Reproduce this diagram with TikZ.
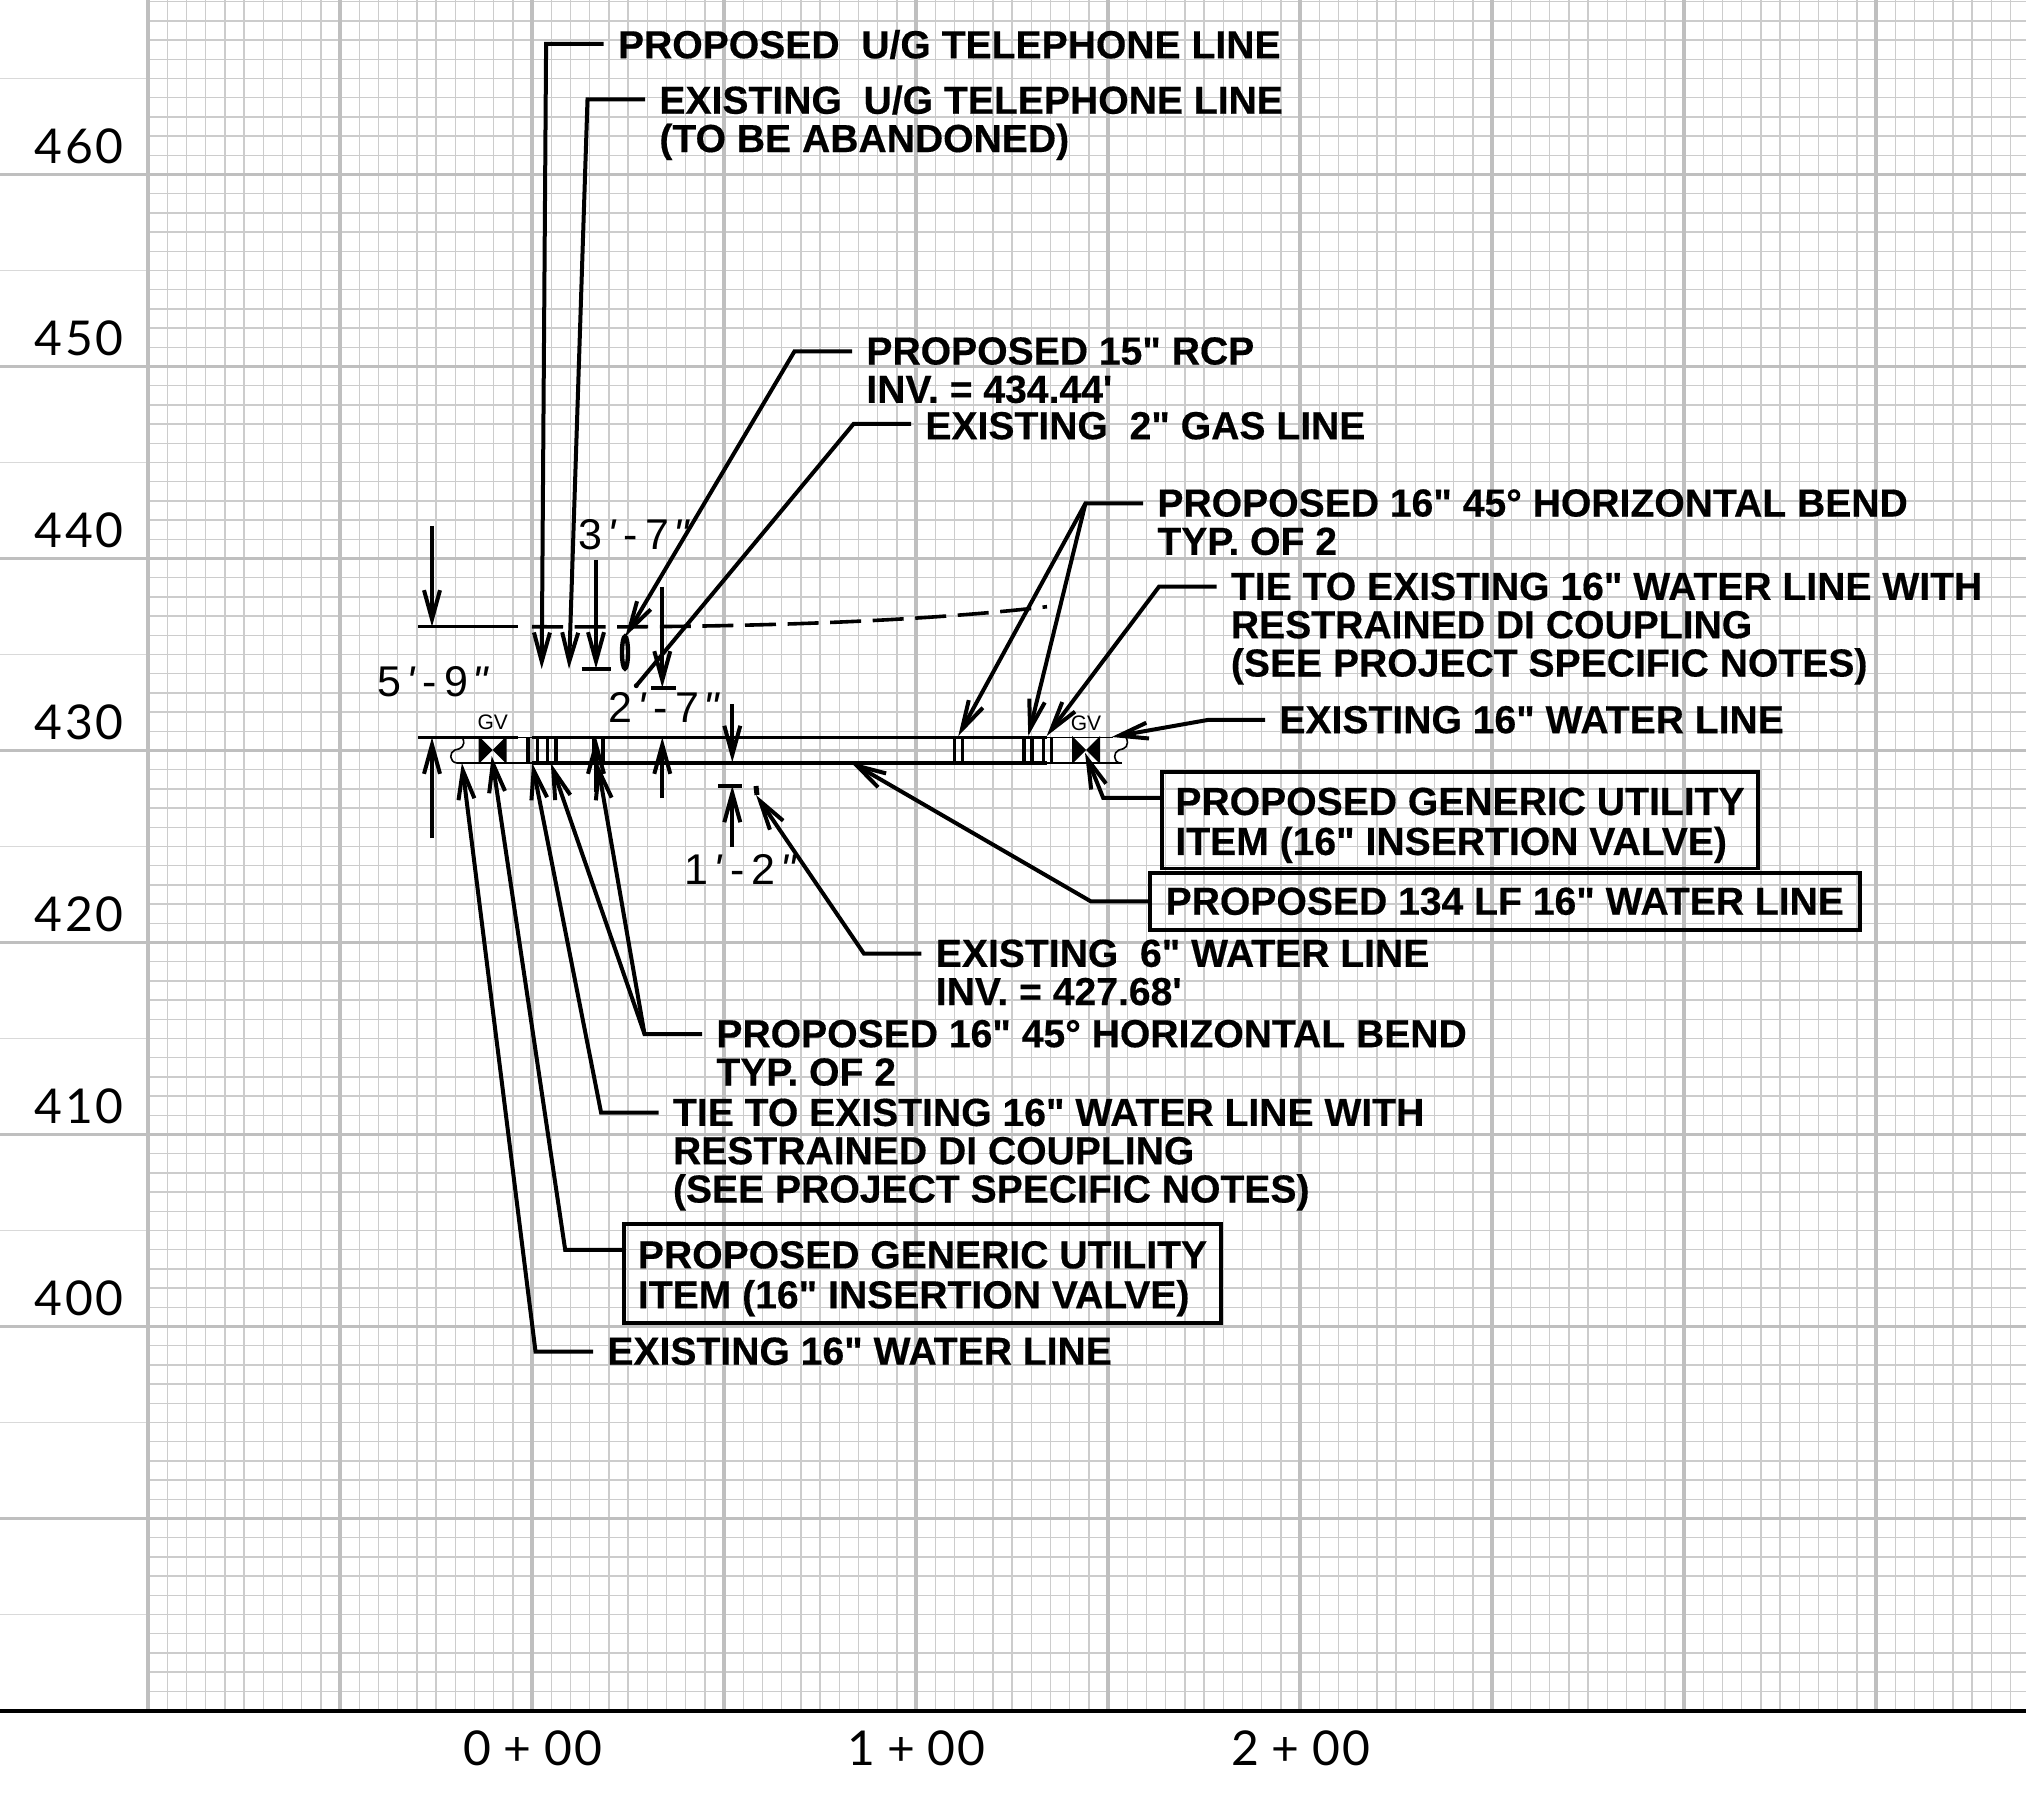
\documentclass[tikz,border=0pt]{standalone}
\usepackage{fontspec}
\usetikzlibrary{arrows.meta}
\newfontfamily\notefont[BoldFeatures={FakeBold=0.4}]{Liberation Sans}
\newfontfamily\axisfont[LetterSpace=5]{Lato}
\newcommand{\ftin}[2]{#1\kern2.5pt\textit{'}\kern3.5pt-\kern3.5pt#2\kern2.5pt\textit{"}}
\tikzset{
 minorgrid/.style={color=gray!40,line width=0.7pt},
 majorgrid/.style={color=gray!50,line width=1.9pt},
 lightgrid/.style={color=gray!30,line width=0.6pt},
 axisline/.style={black,line width=2pt},
 leader/.style={black,line width=2pt,-{Straight Barb[length=14.5pt,width=8pt]}},
 plainleader/.style={black,line width=2pt},
 pipeline/.style={black,line width=1.8pt},
 pipethin/.style={black,line width=0.8pt},
 bendtick/.style={black,line width=1.8pt},
 note/.style={font=\notefont\bfseries\fontsize{19.55}{19.15}\selectfont,anchor=north west,align=left,inner sep=0pt,yshift=0.6pt},
 notebox/.style={font=\notefont\bfseries\fontsize{19.55}{20}\selectfont,draw=black,line width=1.8pt,align=left,inner sep=0pt},
 axislabel/.style={font=\axisfont\fontsize{24}{26}\selectfont,anchor=base,inner sep=0pt},
 dimlabel/.style={font=\notefont\fontsize{21.5}{23}\selectfont,anchor=base west,inner sep=0pt},
 valvelabel/.style={font=\notefont\fontsize{10.5}{11}\selectfont,inner sep=0pt}
}
\begin{document}
\begin{tikzpicture}[x=0.5pt,y=-0.5pt]
 \useasboundingbox (0,0) rectangle (2026,1797);
 \draw[minorgrid,shift={(148,174.5)},step=9.6pt] (0,-174.5) grid (1878,1536.2);
 \draw[lightgrid,shift={(148,174.5)},xstep=2000pt,ystep=48pt] (-148,-174.5) grid (0,1536.2);
 \draw[majorgrid,shift={(148,174.5)},step=96pt] (-148,-174.5) grid (1878,1536.2);
 \draw[axisline] (0,1710.7) -- (2026,1710.7);

 \node[axislabel] (elev460) at (79,163.5) {460};
 \node[axislabel] (elev450) at (79,355.5) {450};
 \node[axislabel] (elev440) at (79,547.5) {440};
 \node[axislabel] (elev430) at (79,739.5) {430};
 \node[axislabel] (elev420) at (79,931.5) {420};
 \node[axislabel] (elev410) at (79,1123.5) {410};
 \node[axislabel] (elev400) at (79,1315.5) {400};
 \node[axislabel] (sta0) at (533,1765) {0\kern6.2pt+\kern6.2pt00};
 \node[axislabel] (sta1) at (916.5,1765) {1\kern6.2pt+\kern6.2pt00};
 \node[axislabel] (sta2) at (1301,1765) {2\kern6.2pt+\kern6.2pt00};

 \draw[pipeline] (418,737.3) -- (518,737.3);
 \draw[pipethin] (518,737.3) -- (532,737.3);
 \draw[pipethin] (456.7,762.7) -- (532,762.7);
 \draw[pipeline] (532,737.3) -- (1046.7,737.3);
 \draw[pipeline] (532,762.7) -- (1046.7,762.7);
 \draw[pipethin] (1046.7,737.3) -- (1113,737.3);
 \draw[pipethin] (1046.7,762.7) -- (1121.7,762.7);
 \draw[pipethin] (462.7,738) .. controls (466,746) and (461,749) .. (455,750) .. controls (449,752) and (449,762) .. (457,763);
 \draw[pipethin] (1126,737) .. controls (1130,746) and (1125,749) .. (1119,750) .. controls (1113,752) and (1113,762) .. (1120,763);
 \foreach \tickx in {527.7,537.3,547.3,556,594,603,954.3,962.3,1024,1032,1043.3,1051.3}
  \draw[bendtick] (\tickx,737.3) -- (\tickx,762.7);
 \fill[black] (478.7,736) -- (492.7,750) -- (478.7,764) -- cycle;
 \fill[black] (506.7,736) -- (492.7,750) -- (506.7,764) -- cycle;
 \fill[black] (1072,736) -- (1086,750) -- (1072,764) -- cycle;
 \fill[black] (1100,736) -- (1086,750) -- (1100,764) -- cycle;
 \node[valvelabel] (gvLeft) at (492.7,722) {GV};
 \node[valvelabel] (gvRight) at (1086,723) {GV};

 \draw[pipeline] (418,626.7) -- (518,626.7);
 \draw[pipeline,dash pattern=on 15.5pt off 5.8pt] (532,626.7) .. controls (700,628) and (900,624) .. (1047,606.7);
 \draw[pipeline,line width=2.2pt] (625,652.5) ellipse [x radius=3,y radius=16];
 \draw[pipeline,line width=2.5pt] (756,786) -- (757,795);
 \fill[black] (636.3,685.7) circle [radius=2.5];

 \coordinate (fiveTop) at (432,526);
 \coordinate (fiveTip) at (432,626.7);
 \coordinate (fiveLow) at (432,838);
 \coordinate (fiveLowTip) at (432,737.3);
 \coordinate (threeTop) at (596,560);
 \coordinate (threeTip) at (596,668.7);
 \coordinate (threeLow) at (596,791.7);
 \coordinate (threeLowTip) at (596,737.3);
 \coordinate (twoTop) at (662.3,586.7);
 \coordinate (twoTip) at (662.3,687.7);
 \coordinate (twoLow) at (662.3,798);
 \coordinate (twoLowTip) at (662.3,737.3);
 \coordinate (oneTop) at (732.3,704);
 \coordinate (oneTip) at (732.3,762.3);
 \coordinate (oneLow) at (732.3,847);
 \coordinate (oneLowTip) at (732.3,785.7);
 \draw[leader] (fiveTop) -- (fiveTip);
 \draw[leader] (fiveLow) -- (fiveLowTip);
 \draw[leader] (threeTop) -- (threeTip);
 \draw[leader] (threeLow) -- (threeLowTip);
 \draw[leader] (twoTop) -- (twoTip);
 \draw[leader] (twoLow) -- (twoLowTip);
 \draw[leader] (oneTop) -- (oneTip);
 \draw[leader] (oneLow) -- (oneLowTip);
 \draw[plainleader] (581.7,668.7) -- (610.7,668.7);
 \draw[plainleader] (651,687.7) -- (676,687.7);
 \draw[plainleader] (718,785.7) -- (742,785.7);
 \node[dimlabel] (dimFive) at (377,696.7) {\ftin{5}{9}};
 \node[dimlabel] (dimThree) at (578,550) {\ftin{3}{7}};
 \node[dimlabel] (dimTwo) at (608,723) {\ftin{2}{7}};
 \node[dimlabel] (dimOne) at (684.5,884) {\ftin{1}{2}};

 \node[note] (propTel) at (617.6,30.7) {PROPOSED\ \ U/G TELEPHONE LINE};
 \node[note] (exTel) at (659,86.2) {EXISTING\ \ U/G TELEPHONE LINE\\(TO BE ABANDONED)};
 \node[note] (propRcp) at (866,338) {PROPOSED 15" RCP\\INV. = 434.44'};
 \node[note] (exGas) at (925,412.7) {EXISTING\ \ 2" GAS LINE};
 \node[note] (bendRight) at (1157,490) {PROPOSED 16" 45° HORIZONTAL BEND\\TYP. OF 2};
 \node[note] (tieRight) at (1230.5,573.4) {TIE TO EXISTING 16" WATER LINE WITH\\RESTRAINED DI COUPLING\\(SEE PROJECT SPECIFIC NOTES)};
 \node[note] (waterRight) at (1279,706.7) {EXISTING 16" WATER LINE};
 \node[note] (exSix) at (935.4,940.3) {EXISTING\ \ 6" WATER LINE\\INV. = 427.68'};
 \node[note] (bendLeft) at (716,1020.7) {PROPOSED 16" 45° HORIZONTAL BEND\\TYP. OF 2};
 \node[note] (tieLeft) at (672.6,1099.4) {TIE TO EXISTING 16" WATER LINE WITH\\RESTRAINED DI COUPLING\\(SEE PROJECT SPECIFIC NOTES)};
 \node[note] (waterLeft) at (607,1338.2) {EXISTING 16" WATER LINE};
 \node[notebox,minimum width=298pt,minimum height=48.3pt] (valveRight) at (1460,820) {\rule{0pt}{19pt}PROPOSED GENERIC UTILITY\\ITEM (16" INSERTION VALVE)};
 \node[notebox,minimum width=355pt,minimum height=28.6pt] (lineBox) at (1504.8,901.3) {PROPOSED 134 LF 16" WATER LINE};
 \node[notebox,minimum width=298.5pt,minimum height=49.7pt] (valveLeft) at (922.5,1273.4) {\rule{0pt}{19pt}PROPOSED GENERIC UTILITY\\ITEM (16" INSERTION VALVE)};

 \draw[leader] ([shift={(-14,14.5)}]propTel.north west) -- ++(-57.5,0) -- (541.7,669);
 \draw[leader] ([shift={(-14,14.5)}]exTel.north west) -- ++(-57.5,0) -- (569,669);
 \draw[leader] ([shift={(-14,14.5)}]propRcp.north west) -- ++(-57.5,0) -- (625.3,636.7);
 \draw[plainleader] ([shift={(-14,12.5)}]exGas.north west) -- ++(-57.5,0) -- (636.3,685.7);
 \draw[leader] ([shift={(-14,14.5)}]bendRight.north west) -- ++(-57.5,0) -- (958.3,736);
 \draw[leader] ([shift={(-71.5,14.5)}]bendRight.north west) -- (1028.3,736);
 \draw[leader] ([shift={(-14,14.5)}]tieRight.north west) -- ++(-57.5,0) -- (1046.7,736);
 \draw[leader] ([shift={(-14,14.5)}]waterRight.north west) -- ++(-57.5,0) -- (1111.7,737);
 \draw[leader] ([yshift=-14pt]valveRight.north west) -- ++(-57,0) -- (1085,752.7);
 \draw[leader] (lineBox.west) -- ++(-57.3,0) -- (850.5,762);
 \draw[leader] ([shift={(-14,14.5)}]exSix.north west) -- ++(-57.5,0) -- (756,795);
 \draw[leader] ([shift={(-14,14.5)}]bendLeft.north west) -- ++(-57.5,0) -- (550.8,763);
 \draw[leader] ([shift={(-71.5,14.5)}]bendLeft.north west) -- (597.5,763);
 \draw[leader] ([shift={(-14,14.5)}]tieLeft.north west) -- ++(-57.5,0) -- (532.2,763);
 \draw[leader] ([yshift=-14pt]valveLeft.north west) -- ++(-57,0) -- (491.7,756);
 \draw[leader] ([shift={(-14,14.5)}]waterLeft.north west) -- ++(-57.5,0) -- (461.9,763);
\end{tikzpicture}
\end{document}
